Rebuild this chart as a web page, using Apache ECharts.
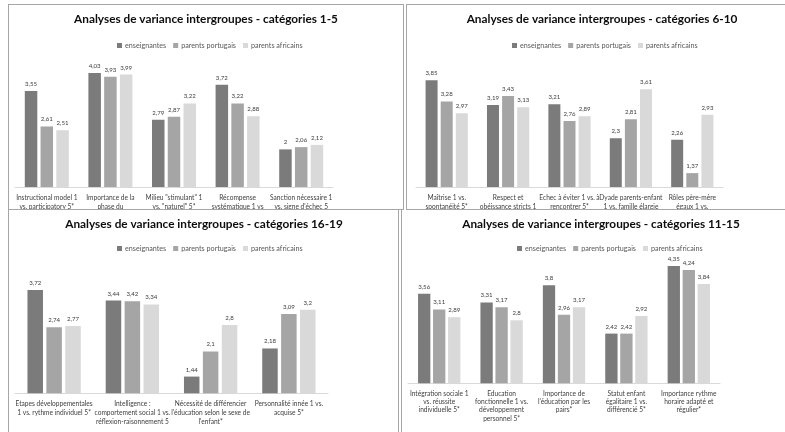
<!DOCTYPE html>
<html><head><meta charset="utf-8">
<script src="https://cdn.jsdelivr.net/npm/echarts@6/dist/echarts.min.js"></script>
<style>
html,body{margin:0;padding:0;background:#fff;width:785px;height:432px;overflow:hidden;position:relative}
.panel{position:absolute;overflow:hidden;box-sizing:border-box;border:1px solid #a6a6a6}
.chart{position:absolute;width:785px;height:432px}
</style></head><body>
<div class="panel" id="p1" style="left:8px;top:4px;width:396px;height:206px"><div class="chart" id="c1" style="left:-9px;top:-5px"></div></div>
<div class="panel" id="p2" style="left:406px;top:4px;width:390px;height:206px"><div class="chart" id="c2" style="left:-407px;top:-5px"></div></div>
<div class="panel" id="p3" style="left:8px;top:209px;width:391px;height:230px;border-top:none"><div class="chart" id="c3" style="left:-9px;top:-209px"></div></div>
<div class="panel" id="p4" style="left:401px;top:209px;width:395px;height:230px;border-top:none"><div class="chart" id="c4" style="left:-402px;top:-209px"></div></div>
<script>
const seriesNames = ['enseignantes', 'parents portugais', 'parents africains'];

const titles = [
  'Analyses de variance intergroupes - catégories 1-5',
  'Analyses de variance intergroupes - catégories 6-10',
  'Analyses de variance intergroupes - catégories 16-19',
  'Analyses de variance intergroupes - catégories 11-15'
];

const categories1 = ['Instructional model 1\nvs. participatory 5*', 'Importance de la\nphase du', 'Milieu "stimulant" 1\nvs. "naturel" 5*', 'Récompense\nsystématique 1 vs', 'Sanction nécessaire 1\nvs. signe d\'échec 5'];
const enseignantes1 = [3.55, 4.03, 2.79, 3.72, 2];
const portugais1 = [2.61, 3.93, 2.87, 3.22, 2.06];
const africains1 = [2.51, 3.99, 3.22, 2.88, 2.12];

const categories2 = ['Maîtrise 1 vs.\nspontanéité 5*', 'Respect et\nobéissance stricts 1', 'Echec à éviter 1 vs. à\nrencontrer 5*', 'Dyade parents-enfant\n1 vs. famille élargie', 'Rôles père-mère\négaux 1 vs.'];
const enseignantes2 = [3.85, 3.19, 3.21, 2.3, 2.26];
const portugais2 = [3.28, 3.43, 2.76, 2.81, 1.37];
const africains2 = [2.97, 3.13, 2.89, 3.61, 2.93];

const categories3 = ['Etapes développementales\n1 vs. rythme individuel 5*', 'Intelligence :\ncomportement social 1 vs.\nréflexion-raisonnement 5', 'Nécessité de différencier\nl\'éducation selon le sexe de\nl\'enfant*', 'Personnalité innée 1 vs.\nacquise 5*'];
const enseignantes3 = [3.72, 3.44, 1.44, 2.18];
const portugais3 = [2.74, 3.42, 2.1, 3.09];
const africains3 = [2.77, 3.34, 2.8, 3.2];

const categories4 = ['Intégration sociale 1\nvs. réussite\nindividuelle 5*', 'Education\nfonctionnelle 1 vs.\ndéveloppement\npersonnel 5*', 'Importance de\nl\'éducation par les\npairs*', 'Statut enfant\négalitaire 1 vs.\ndifférencié 5*', 'Importance rythme\nhoraire adapté et\nrégulier*'];
const enseignantes4 = [3.56, 3.31, 3.8, 2.42, 4.35];
const portugais4 = [3.11, 3.17, 2.96, 2.42, 4.24];
const africains4 = [2.89, 2.8, 3.17, 2.92, 3.84];

const colors = ['#7b7b7b', '#a5a5a5', '#d9d9d9'];
const FAMILY = 'Lato';
const FONT = 'Lato, "Open Sans", sans-serif';

// fit font sizes to the text widths measured on the reference
const mctx = document.createElement('canvas').getContext('2d');
function fit(text, weight, target) {
  mctx.font = weight + ' 100px ' + FAMILY;
  return Math.round(100 * target / mctx.measureText(text).width * 10) / 10;
}
const TITLE_SIZE = fit(titles[0], 'bold', 263);
const LEGEND_SIZE = fit('enseignantes', 'normal', 41);
const AXIS_SIZE = fit('Instructional model 1', 'normal', 61.5);
const LABEL_SIZE = fit('3,55', 'normal', 12);

function makeOption(cfg) {
  const fmt = p => String(p.value).replace('.', ',');
  const data = [cfg.ens, cfg.por, cfg.afr];
  return {
    animation: false,
    color: colors,
    title: {
      text: cfg.title, left: cfg.titleX, top: cfg.titleY - TITLE_SIZE * 0.6, textAlign: 'center', padding: 0,
      textStyle: {fontFamily: FONT, fontWeight: 'bold', fontSize: TITLE_SIZE, color: '#0d0d0d'}
    },
    legend: {
      data: seriesNames, left: cfg.legendX, top: cfg.legendY - 4, padding: 0,
      itemWidth: 5, itemHeight: 5, itemGap: 7, icon: 'rect',
      textStyle: {fontFamily: FONT, fontSize: LEGEND_SIZE, color: '#595959', padding: [0, 0, 0, -2]}
    },
    grid: {left: cfg.left, width: cfg.width, top: cfg.top, height: cfg.height, containLabel: false},
    xAxis: {
      type: 'category', data: cfg.cats,
      axisLine: {lineStyle: {color: '#d9d9d9', width: 1}},
      axisTick: {show: false},
      axisLabel: {interval: 0, fontFamily: FONT, fontSize: AXIS_SIZE, color: '#404040', lineHeight: cfg.lh, margin: cfg.margin}
    },
    yAxis: {type: 'value', min: 1, max: 5, show: false, splitLine: {show: false}},
    series: seriesNames.map((n, i) => ({
      name: n, type: 'bar', data: data[i], barWidth: cfg.barWidth, barGap: cfg.barGap,
      label: {show: true, position: 'top', distance: 4, formatter: fmt,
        fontFamily: FONT, fontSize: LABEL_SIZE, color: '#404040'}
    }))
  };
}

const charts = [
  {id: 'c1', title: titles[0], titleX: 206, titleY: 20, legendX: 117, legendY: 46,
   left: 15, width: 318, top: 36.6, height: 150.4, cats: categories1, lh: 9.5, margin: 6,
   ens: enseignantes1, por: portugais1, afr: africains1, barWidth: 12.5, barGap: '26%'},
  {id: 'c2', title: titles[1], titleX: 602, titleY: 20, legendX: 512, legendY: 46,
   left: 416, width: 307, top: 37, height: 150, cats: categories2, lh: 9.5, margin: 6,
   ens: enseignantes2, por: portugais2, afr: africains2, barWidth: 12, barGap: '26%'},
  {id: 'c3', title: titles[2], titleX: 204, titleY: 225, legendX: 117, legendY: 249,
   left: 15, width: 313, top: 241.3, height: 152, cats: categories3, lh: 9, margin: 6,
   ens: enseignantes3, por: portugais3, afr: africains3, barWidth: 15.5, barGap: '22%'},
  {id: 'c4', title: titles[3], titleX: 601, titleY: 225, legendX: 517, legendY: 249,
   left: 408, width: 312, top: 243.3, height: 140, cats: categories4, lh: 8.4, margin: 6,
   ens: enseignantes4, por: portugais4, afr: africains4, barWidth: 12.3, barGap: '22%'}
];

charts.forEach(c => {
  const el = document.getElementById(c.id);
  const ch = echarts.init(el, null, {renderer: 'canvas'});
  ch.setOption(makeOption(c));
});
</script>
</body></html>
